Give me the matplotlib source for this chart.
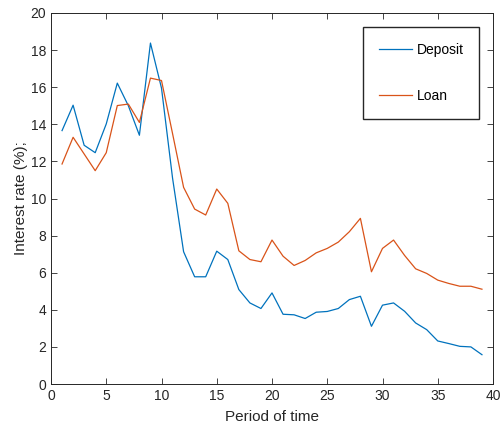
import matplotlib
matplotlib.use('Agg')
import matplotlib.pyplot as plt
import numpy as np

plt.rcParams['font.family'] = ['Liberation Sans', 'DejaVu Sans']

# period index and read-off rates (%)
periods = np.arange(1, 40)
deposit = [13.66, 15.03, 12.87, 12.47, 14.02, 16.22, 15.0, 13.41, 18.38, 15.95,
           11.1, 7.13, 5.78, 5.78, 7.16, 6.71, 5.09, 4.37, 4.07, 4.91,
           3.76, 3.73, 3.53, 3.87, 3.91, 4.07, 4.55, 4.73, 3.11, 4.25,
           4.37, 3.92, 3.29, 2.93, 2.32, 2.18, 2.03, 2.0, 1.58]
loan = [11.86, 13.3, 12.4, 11.5, 12.47, 15.01, 15.09, 14.1, 16.49, 16.36,
        13.5, 10.6, 9.43, 9.11, 10.51, 9.74, 7.18, 6.71, 6.59, 7.76,
        6.89, 6.39, 6.66, 7.07, 7.31, 7.65, 8.21, 8.93, 6.05, 7.31,
        7.76, 6.93, 6.21, 5.96, 5.6, 5.42, 5.27, 5.27, 5.11]

fig = plt.figure(figsize=(5.01, 4.28), dpi=100)
ax = fig.add_axes([51/501, 1 - 384/428, 442/501, 371/428])

ax.plot(periods, deposit, color='#0072BD', linewidth=0.9, label='Deposit')
ax.plot(periods, loan, color='#D95319', linewidth=0.9, label='Loan')

ax.set_xlim(0, 40)
ax.set_ylim(0, 20)
ax.set_xticks(np.arange(0, 41, 5))
ax.set_yticks(np.arange(0, 21, 2))
ax.tick_params(direction='in', top=True, right=True, labelsize=10,
               colors='#262626', length=4, width=0.6)
for s in ax.spines.values():
    s.set_color('#262626')
    s.set_linewidth(0.7)

ax.set_xlabel('Period of time', fontsize=11, color='#262626', labelpad=5)
ax.set_ylabel('Interest rate (%);', fontsize=11, color='#262626', labelpad=2)

leg = ax.legend(loc='upper left', bbox_to_anchor=(0.706, 0.962), fontsize=10,
                handlelength=2.4, handletextpad=0.3, borderpad=1.15,
                borderaxespad=0, labelspacing=2.3, fancybox=False,
                framealpha=1, edgecolor='#262626')
leg.get_frame().set_linewidth(1.0)

fig.savefig('out.png', dpi=100)
